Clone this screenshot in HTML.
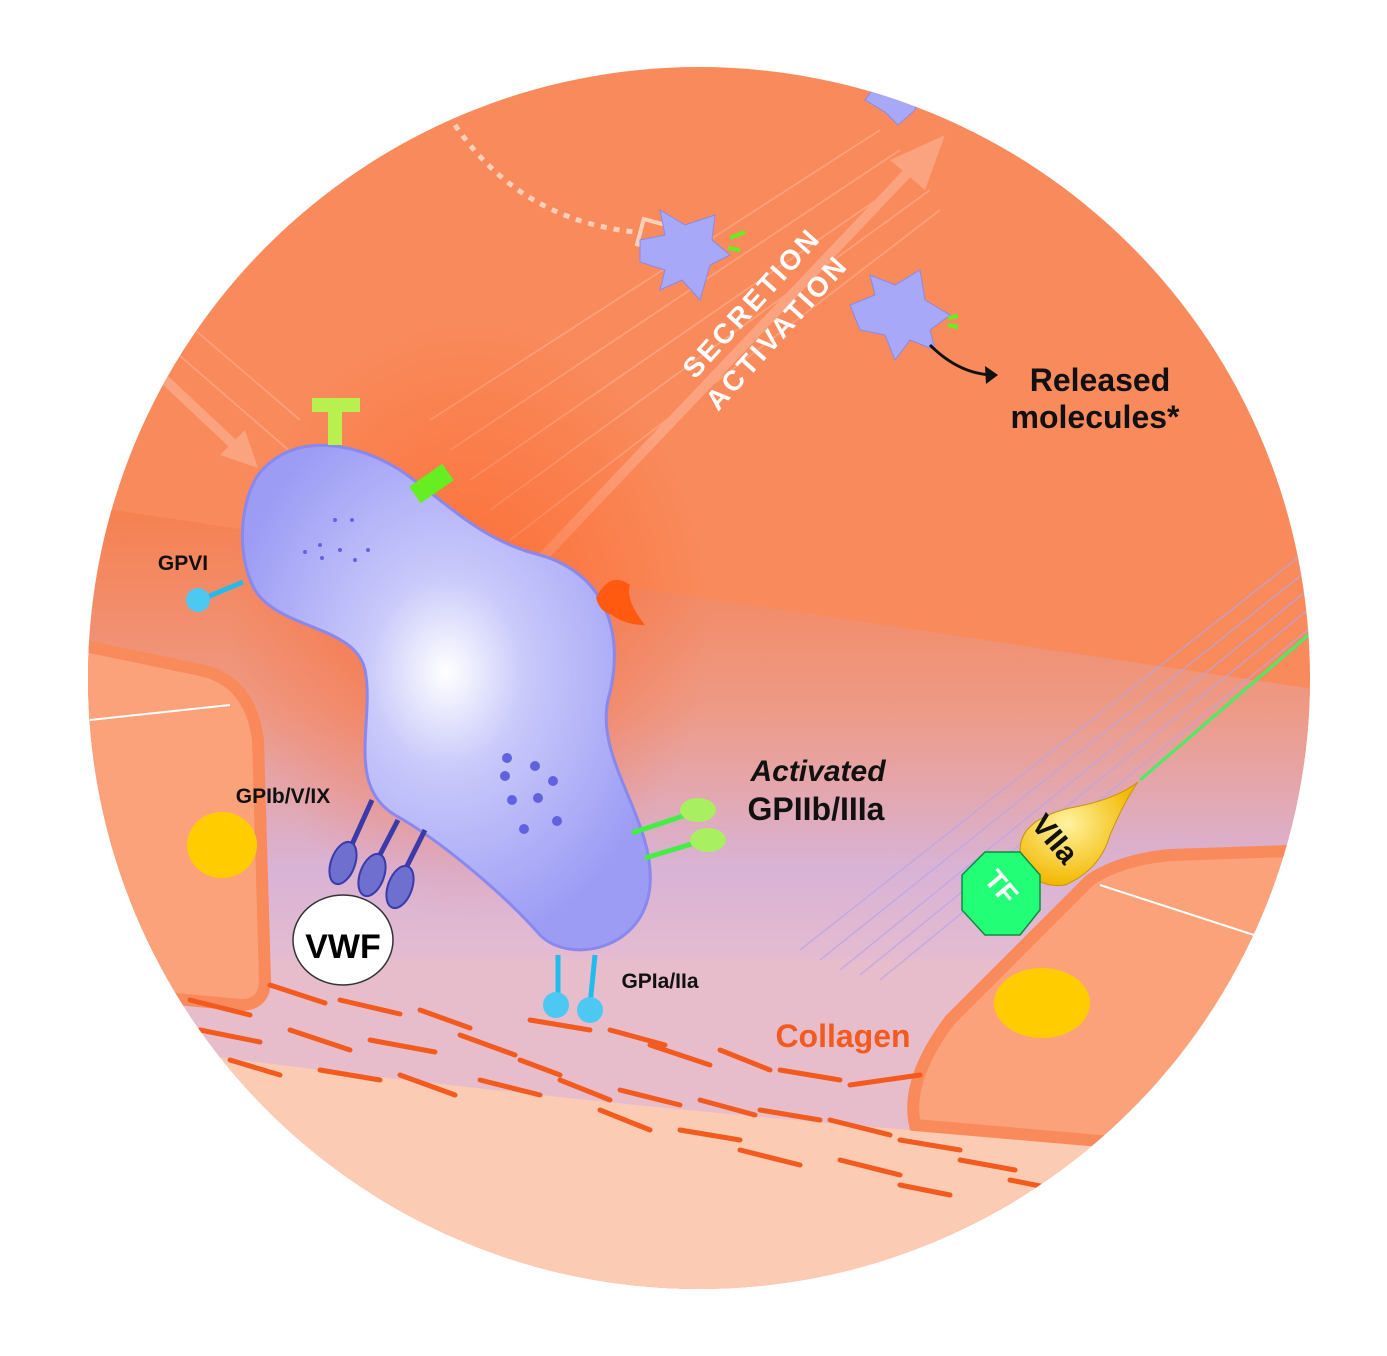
<!DOCTYPE html>
<html><head><meta charset="utf-8"><style>
html,body{margin:0;padding:0;background:#fff}
svg{display:block}
text{font-family:"Liberation Sans",Arial,sans-serif;font-weight:bold}
</style></head><body>
<svg width="1387" height="1356" viewBox="0 0 1387 1356" xmlns="http://www.w3.org/2000/svg">
<defs>
<clipPath id="c"><circle cx="699" cy="678" r="611"/></clipPath>
<linearGradient id="band" x1="0" y1="0" x2="0" y2="1">
<stop offset="0" stop-color="#F6804F"/><stop offset="0.45" stop-color="#EE9A86"/><stop offset="0.8" stop-color="#D9B3D6"/><stop offset="1" stop-color="#E4BBD0"/>
</linearGradient>
<radialGradient id="plt" cx="0.5" cy="0.45" r="0.55">
<stop offset="0" stop-color="#ffffff"/><stop offset="0.35" stop-color="#C9C9FB"/><stop offset="1" stop-color="#9C9CF5"/>
</radialGradient>
<radialGradient id="glow" cx="0.5" cy="0.5" r="0.5">
<stop offset="0" stop-color="#FF5A1A" stop-opacity="0.6"/><stop offset="1" stop-color="#FF5A1A" stop-opacity="0"/>
</radialGradient>
<radialGradient id="drop" cx="0.4" cy="0.4" r="0.6">
<stop offset="0" stop-color="#FFF3A0"/><stop offset="1" stop-color="#F2B800"/>
</radialGradient>
</defs>
<g clip-path="url(#c)">
<rect width="1387" height="1356" fill="#F98A5C"/>
<polygon points="80,505 1320,690 1320,960 80,960" fill="url(#band)"/>
<polygon points="80,960 1320,960 1320,1300 80,1300" fill="#E8BDCB"/>
<path d="M80,1040 C400,1080 700,1120 1320,1160 L1320,1300 L80,1300Z" fill="#FBCBB4"/>
<!-- left cell -->
<path d="M80,645 L200,670 Q250,680 258,740 L265,980 Q265,1005 240,1005 L80,990Z" fill="#FBA27A" stroke="#F98A5C" stroke-width="12"/>
<path d="M90,720 L230,705" stroke="#fff" stroke-width="2" fill="none"/>
<ellipse cx="222" cy="845" rx="35" ry="33" fill="#FFCC00"/>
<!-- right cell -->
<path d="M915,1125 Q905,1080 950,1020 L1090,880 Q1120,860 1170,855 L1320,850 L1320,1160 Z" fill="#FBA27A" stroke="#F98A5C" stroke-width="12"/>
<path d="M1100,885 L1300,950" stroke="#fff" stroke-width="2" fill="none"/>
<ellipse cx="1042" cy="1003" rx="48" ry="35" fill="#FFCC00"/>
<!-- diagonal hatch band right -->
<g stroke="#B9A4E8" stroke-width="1.5" opacity="0.7">
<path d="M800,950 L1320,540 M820,960 L1320,560 M840,970 L1320,580 M860,975 L1320,600 M880,980 L1320,620"/>
</g>
<!-- collagen strokes -->
<g stroke="#F25A1E" stroke-width="5" stroke-linecap="round">
<path d="M190,1000 l60,15 M270,985 l55,18 M340,1000 l60,14 M420,1010 l50,18 M200,1030 l60,12 M290,1030 l60,20 M370,1040 l65,12 M460,1035 l55,20 M530,1020 l60,10 M610,1030 l55,15 M650,1045 l60,20 M720,1050 l50,20 M780,1070 l60,10 M850,1085 l70,-10 M230,1060 l50,15 M320,1070 l60,10 M400,1075 l55,20 M480,1080 l60,15 M560,1080 l50,20 M620,1090 l60,15 M700,1100 l55,15 M760,1110 l60,10 M830,1120 l60,15 M900,1140 l60,10 M960,1160 l55,10 M1010,1180 l50,10 M520,1060 l40,15 M600,1110 l50,20 M680,1130 l60,10 M740,1150 l60,15 M840,1160 l60,15 M900,1185 l50,10"/>
</g>
<!-- secretion arrow band -->
<g stroke="#FBB08E" stroke-width="1.5" opacity="0.7">
<path d="M430,420 L880,130 M450,450 L900,150 M470,480 L920,170 M490,510 L930,190 M510,540 L940,210"/>
<path d="M150,330 L300,460 M160,300 L300,420"/>
</g>
<path d="M540,560 L915,165" stroke="#FBA27E" stroke-width="10"/>
<polygon points="945,135 890,160 925,190" fill="#FBA27E"/>
<path d="M165,380 L245,455" stroke="#FBA27E" stroke-width="10"/>
<polygon points="258,468 220,455 245,430" fill="#FBA27E"/>
<path d="M455,125 Q520,220 635,232" stroke="#FDD0BC" stroke-width="5" stroke-dasharray="6,7" fill="none"/>
<rect x="640" y="222" width="26" height="26" fill="none" stroke="#FDD0BC" stroke-width="4" transform="rotate(15 653 235)"/>
<!-- glows -->
<ellipse cx="470" cy="620" rx="240" ry="300" fill="url(#glow)"/>
<!-- platelet -->
<path d="M262,470 C300,430 360,445 400,470 C450,505 480,540 540,555 C610,575 625,640 608,700 C595,760 655,820 650,885 C645,950 570,965 540,935 C505,895 440,840 395,815 C345,785 375,720 365,670 C355,625 280,630 255,590 C235,555 240,495 262,470Z" fill="url(#plt)" stroke="#8888EE" stroke-width="3"/>
<g fill="#6262E0">
<circle cx="507" cy="758" r="5"/><circle cx="535" cy="766" r="5"/><circle cx="553" cy="781" r="5"/><circle cx="505" cy="776" r="5"/><circle cx="538" cy="798" r="5"/><circle cx="557" cy="821" r="5"/><circle cx="524" cy="829" r="5"/><circle cx="512" cy="800" r="5"/>
<circle cx="335" cy="520" r="2"/><circle cx="352" cy="520" r="2"/><circle cx="320" cy="545" r="2"/><circle cx="340" cy="550" r="2"/><circle cx="305" cy="552" r="2"/><circle cx="322" cy="558" r="2"/><circle cx="355" cy="560" r="2"/><circle cx="368" cy="550" r="2"/>
</g>
<!-- receptors -->
<path d="M335,445 L335,410 M312,405 L360,405" stroke="#B8F050" stroke-width="14"/>
<path d="M415,495 L448,472" stroke="#66EE22" stroke-width="20"/>
<path d="M596,598 Q610,570 630,585 Q625,600 645,625 Q625,625 612,615 Q600,612 596,598Z" fill="#FF5A10"/>
<path d="M243,582 L200,600" stroke="#22BBEE" stroke-width="5"/><circle cx="198" cy="600" r="12" fill="#4CC8F2"/>
<g stroke="#3A3AA8" stroke-width="5">
<path d="M372,800 L345,860 M398,820 L372,870 M425,830 L400,880"/>
</g>
<g fill="#6F6FD0" stroke="#3A3AA8" stroke-width="2">
<ellipse cx="343" cy="863" rx="12" ry="22" transform="rotate(20 343 863)"/>
<ellipse cx="372" cy="875" rx="12" ry="22" transform="rotate(20 372 875)"/>
<ellipse cx="400" cy="887" rx="12" ry="22" transform="rotate(20 400 887)"/>
</g>
<path d="M632,833 L695,812 M645,858 L705,840" stroke="#44EE44" stroke-width="5"/>
<ellipse cx="698" cy="810" rx="18" ry="12" fill="#A8F060"/><ellipse cx="708" cy="840" rx="18" ry="12" fill="#A8F060"/>
<path d="M558,955 L558,1000 M595,955 L590,1005" stroke="#22BBEE" stroke-width="5"/>
<circle cx="556" cy="1005" r="13" fill="#4CC8F2"/><circle cx="590" cy="1010" r="13" fill="#4CC8F2"/>
<ellipse cx="343" cy="940" rx="50" ry="45" fill="#fff" stroke="#333" stroke-width="1.5"/>
<!-- small platelets -->
<g fill="#A8A8F8" stroke="#8888EE">
<path d="M640,240 L665,235 L660,210 L685,225 L715,215 L712,240 L730,255 L710,265 L700,300 L682,280 L660,290 L665,270 L640,262Z"/>
<path d="M850,305 L875,295 L870,275 L895,285 L920,270 L925,300 L950,315 L930,330 L935,350 L910,340 L895,360 L885,335 L860,330Z"/>
<path d="M865,100 L880,80 L900,95 L920,85 L915,110 L898,125 L885,112Z"/>
</g>
<path d="M730,238 L745,232 M728,248 L740,250 M948,318 L958,316 M948,325 L958,327" stroke="#66EE22" stroke-width="4"/>
<path d="M930,345 Q960,375 995,375" stroke="#111" stroke-width="3" fill="none"/>
<polygon points="998,375 985,366 986,384" fill="#111"/>
<!-- VIIa & TF -->
<path d="M1140,780 L1320,625" stroke="#44EE66" stroke-width="3"/>
<path d="M1138,782 Q1115,800 1070,808 Q1020,820 1020,850 Q1030,890 1065,885 Q1100,870 1110,835 Q1125,800 1138,782Z" fill="url(#drop)" stroke="#C99400" stroke-width="1"/>
<polygon points="985,852 1020,852 1040,875 1040,910 1020,935 985,935 962,910 962,875" fill="#22FF77" stroke="#118844" stroke-width="1.5"/>
</g>
<text x="1100" y="391" font-size="32" text-anchor="middle" fill="#111">Released</text>
<text x="1095" y="428" font-size="32" text-anchor="middle" fill="#111">molecules*</text>
<text x="183" y="570" font-size="21" text-anchor="middle" fill="#111">GPVI</text>
<text x="283" y="803" font-size="21" text-anchor="middle" fill="#111">GPIb/V/IX</text>
<text x="660" y="988" font-size="21" text-anchor="middle" fill="#111">GPIa/IIa</text>
<text x="343" y="958" font-size="34" text-anchor="middle" fill="#000">VWF</text>
<text x="818" y="781" font-size="30" font-style="italic" text-anchor="middle" fill="#111">Activated</text>
<text x="816" y="820" font-size="32" text-anchor="middle" fill="#111">GPIIb/IIIa</text>
<text x="843" y="1047" font-size="32" text-anchor="middle" fill="#F25A1E">Collagen</text>
<text x="0" y="0" font-size="28" fill="#fff" letter-spacing="3" transform="translate(695,380) rotate(-48)">SECRETION</text>
<text x="0" y="0" font-size="28" fill="#fff" letter-spacing="3" transform="translate(718,412) rotate(-48)">ACTIVATION</text>
<text x="0" y="0" font-size="30" fill="#111" transform="translate(1030,825) rotate(50)">VIIa</text>
<text x="0" y="0" font-size="28" fill="#fff" transform="translate(983,880) rotate(50)">TF</text>
</svg>
</body></html>
